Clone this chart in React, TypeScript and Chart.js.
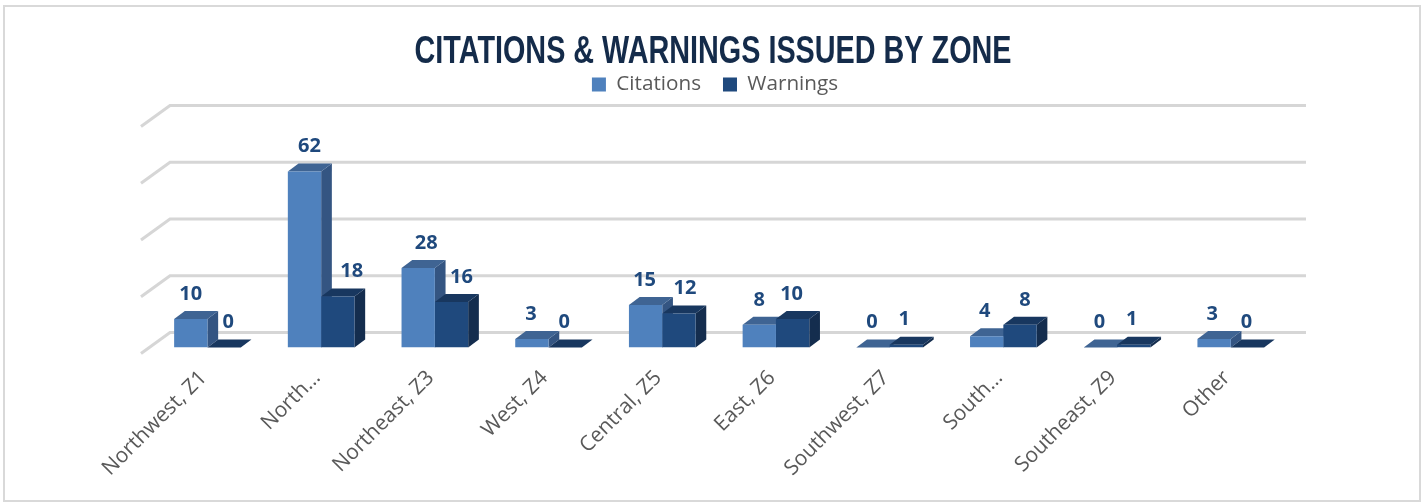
import React, { useEffect, useRef } from "react";
import { Chart, registerables } from "chart.js";

Chart.register(...registerables);

const titleText = "CITATIONS & WARNINGS ISSUED BY ZONE";
const categories = ["Northwest, Z1", "North…", "Northeast, Z3", "West, Z4", "Central, Z5", "East, Z6", "Southwest, Z7", "South…", "Southeast, Z9", "Other"];
const citations = [10, 62, 28, 3, 15, 8, 0, 4, 0, 3];
const warnings = [0, 18, 16, 0, 12, 10, 1, 8, 1, 0];
const gridValues = [0, 20, 40, 60, 80];
// Hand-placed data-label shifts seen in the reference (px to the right of the bar centre).
const citationLabelShift = [0, 5, 8, -1, -1, 0, -1, -2, -1, -2];
const warningLabelShift = [4, 14, 10, -1, 6, -1, -2, 5, -2, -1];

const COL_A = { front: "#4F81BD", top: "#3F6493", side: "#345582" };
const COL_B = { front: "#1F497D", top: "#18375F", side: "#142D4E" };
const BAR_DX = 10.7;
const BAR_DY = 8;
const TITLE_WIDTH = 597;
const TITLE_DROP = 2;
const LEGEND_SHIFT = 2;

const frame = {
  id: "frame",
  beforeDraw(c: any) {
    const { ctx } = c;
    ctx.save();
    ctx.fillStyle = "#fff";
    ctx.fillRect(0, 0, c.width, c.height);
    ctx.strokeStyle = "#d9d9d9";
    ctx.lineWidth = 2;
    ctx.strokeRect(4, 6, 1416, 495);
    ctx.restore();
  },
};

// The reference title uses a condensed face; none is installed, so the real
// title block is narrowed horizontally when it paints.
const narrowBlocks = {
  id: "narrowBlocks",
  afterLayout(c: any) {
    const { ctx } = c;
    const t = c.titleBlock;
    if (t && !t.__narrow) {
      t.__narrow = true;
      const draw = t.draw.bind(t);
      t.draw = () => {
        ctx.save();
        ctx.font = `bold ${c.options.plugins.title.font.size}px ${c.options.plugins.title.font.family}`;
        const sx = TITLE_WIDTH / ctx.measureText(titleText).width;
        const cx = (t.left + t.right) / 2;
        ctx.translate(cx, TITLE_DROP);
        ctx.scale(sx, 1);
        ctx.translate(-cx, 0);
        draw();
        ctx.restore();
      };
    }
    const l = c.legend;
    if (l && !l.__moved) {
      l.__moved = true;
      const draw = l.draw.bind(l);
      l.draw = () => {
        ctx.save();
        ctx.translate(LEGEND_SHIFT, 0);
        draw();
        ctx.restore();
      };
    }
  },
};

const wall = {
  id: "wall",
  beforeDatasetsDraw(c: any) {
    const { ctx, chartArea: a, scales } = c;
    const y = scales.y;
    ctx.save();
    ctx.strokeStyle = "#d6d6d6";
    ctx.lineCap = "butt";
    for (const v of gridValues) {
      const p = y.getPixelForValue(v);
      ctx.lineWidth = 3;
      ctx.beginPath();
      ctx.moveTo(a.left - 9.6, p + 6);
      ctx.lineTo(a.left + 19.4, p - 15);
      ctx.lineTo(a.right + 18.4, p - 15);
      ctx.stroke();
    }
    // Depth faces go behind the fronts that Chart.js paints next.
    [COL_A, COL_B].forEach((col, i) => {
      c.getDatasetMeta(i).data.forEach((b: any) => {
        const l = b.x - b.width / 2;
        const r = b.x + b.width / 2;
        ctx.fillStyle = col.side;
        ctx.beginPath();
        ctx.moveTo(r, b.y);
        ctx.lineTo(r + BAR_DX, b.y - BAR_DY);
        ctx.lineTo(r + BAR_DX, b.base - BAR_DY);
        ctx.lineTo(r, b.base);
        ctx.closePath();
        ctx.fill();
        ctx.fillStyle = col.top;
        ctx.beginPath();
        ctx.moveTo(l, b.y);
        ctx.lineTo(l + BAR_DX, b.y - BAR_DY);
        ctx.lineTo(r + BAR_DX, b.y - BAR_DY);
        ctx.lineTo(r, b.y);
        ctx.closePath();
        ctx.fill();
      });
    });
    ctx.restore();
  },
};

const valueLabels = {
  id: "valueLabels",
  afterDatasetsDraw(c: any) {
    const { ctx } = c;
    ctx.save();
    ctx.font = 'bold 20px "Open Sans"';
    ctx.fillStyle = "#1F497D";
    ctx.textAlign = "center";
    ctx.textBaseline = "middle";
    [citationLabelShift, warningLabelShift].forEach((shift, i) => {
      const ds = c.data.datasets[i];
      c.getDatasetMeta(i).data.forEach((b: any, j: number) => {
        ctx.fillText(String(ds.data[j]), b.x + shift[j], b.y - 25);
      });
    });
    ctx.restore();
  },
};

export default function App() {
  const ref = useRef<HTMLCanvasElement>(null);
  useEffect(() => {
    const chart = new Chart(ref.current as HTMLCanvasElement, {
      type: "bar",
      data: {
        labels: categories,
        datasets: [
          { label: "Citations", data: citations, backgroundColor: COL_A.front },
          { label: "Warnings", data: warnings, backgroundColor: COL_B.front },
        ],
      },
      plugins: [frame, narrowBlocks, wall, valueLabels],
      options: {
        responsive: false,
        animation: false,
        devicePixelRatio: 1,
        datasets: { bar: { categoryPercentage: 0.586, barPercentage: 1 } },
        layout: { padding: { left: 138.4, right: 138.4, top: 0, bottom: 0 } },
        plugins: {
          tooltip: { enabled: false },
          title: {
            display: true,
            text: titleText,
            color: "#142B4A",
            font: { family: '"Liberation Sans"', weight: "bold", size: 39, lineHeight: 0.03 },
            padding: { top: 50, bottom: 1 },
          },
          legend: {
            display: true,
            position: "top",
            labels: {
              boxWidth: 14,
              boxHeight: 14,
              padding: 22,
              color: "#595959",
              font: { family: '"Open Sans"', size: 20.7 },
            },
          },
        },
        scales: {
          x: {
            grid: { display: false, drawTicks: false },
            border: { display: false },
            afterFit: (s: any) => { s.height = 154.5; },
            ticks: {
              autoSkip: false,
              minRotation: 45,
              maxRotation: 45,
              padding: 18,
              labelOffset: -4,
              color: "#595959",
              font: { family: '"Open Sans"', size: 21 },
            },
          },
          y: {
            min: 0,
            max: 85.5,
            grid: { display: false },
            border: { display: false },
            ticks: { display: false },
            afterFit: (s: any) => { s.width = 12.2; },
          },
        },
      },
    } as any);
    return () => chart.destroy();
  }, []);
  return (
    <canvas
      ref={ref}
      width={1426}
      height={502}
      style={{ position: "absolute", left: 0, top: 0, display: "block" }}
    />
  );
}
